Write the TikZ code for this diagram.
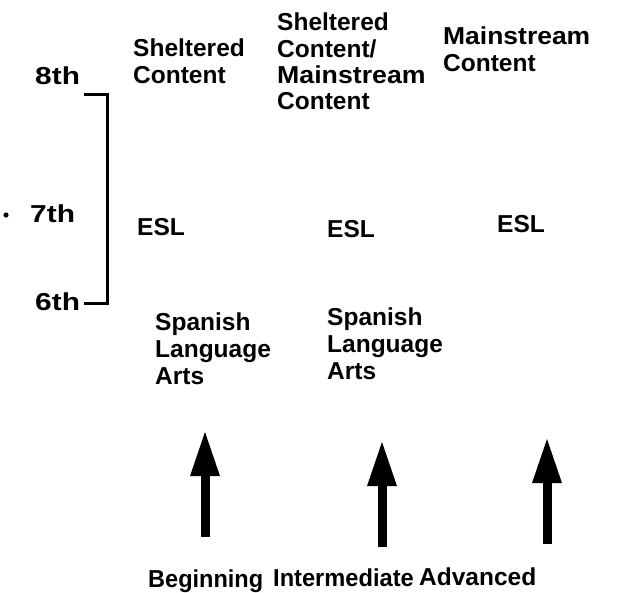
\documentclass[tikz,border=0pt]{standalone}
\usepackage{fontspec}
\usepackage{graphicx}
\setmainfont{Liberation Sans}
\usetikzlibrary{arrows.meta}
\newcommand{\hstretch}[2]{\scalebox{#1}[1]{#2}}
\tikzset{
  lbl/.style={inner sep=0pt, font=\fontsize{24.5}{27}\selectfont\bfseries, align=left, anchor=north west},
  grade/.style={inner sep=0pt, font=\fontsize{24.5}{27}\selectfont\bfseries, anchor=base west},
  uparrow/.style={line width=9pt, -{Triangle[width=27pt,length=46pt]}},
  bracketline/.style={line width=3pt}
}
\begin{document}
\begin{tikzpicture}[x=1pt,y=-1pt]
\useasboundingbox (0,0) rectangle (623,593);
% grades
\node[grade] (g8) at (35,85) {\hstretch{1.22}{8th}};
\node[grade] (g7) at (30,223) {\hstretch{1.22}{7th}};
\node[grade] (g6) at (35,310) {\hstretch{1.22}{6th}};
\fill (6,215) circle (2.6pt);
% bracket
\draw[bracketline] (84,95) -- (107,95) -- (107,303) -- (84,303);
% top row
\node[lbl] (sc) at (133,39) {Sheltered\\Content};
\node[lbl, font=\fontsize{24.5}{26.2}\selectfont\bfseries] (scm) at (277,13) {Sheltered\\Content/\\\hstretch{1.09}{Mainstream}\\Content};
\node[lbl] (mc) at (443,27) {\hstretch{1.08}{Mainstream}\\Content};
% ESL row
\node[grade] (esl1) at (137,236) {ESL};
\node[grade] (esl2) at (327,238) {ESL};
\node[grade] (esl3) at (497,233) {ESL};
% Spanish
\node[lbl] (sla1) at (155,313) {Spanish\\Language\\Arts};
\node[lbl] (sla2) at (327,308) {Spanish\\Language\\Arts};
% bottom labels
\node[grade] (beg) at (148,587) {\hstretch{0.96}{Beginning}};
\node[grade] (int) at (273,586) {\hstretch{0.965}{Intermediate}};
\node[grade] (adv) at (419,585) {Advanced};
% arrows
\coordinate (a1b) at (205,537);
\coordinate (a1t) at (205,430);
\coordinate (a2b) at (382,547);
\coordinate (a2t) at (382,440);
\coordinate (a3b) at (547,544);
\coordinate (a3t) at (547,437);
\draw[uparrow] (a1b) -- (a1t);
\draw[uparrow] (a2b) -- (a2t);
\draw[uparrow] (a3b) -- (a3t);
\end{tikzpicture}
\end{document}
